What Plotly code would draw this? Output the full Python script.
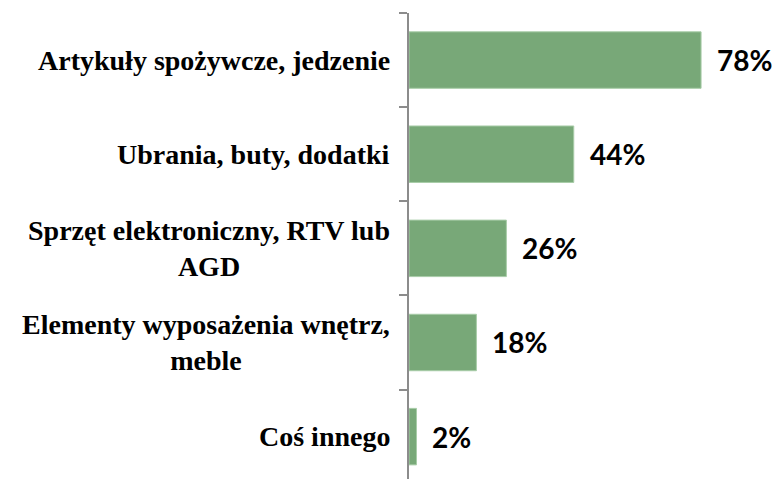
import plotly.graph_objects as go

categories = ["Artykuły spożywcze, jedzenie", "Ubrania, buty, dodatki",
              "Sprzęt elektroniczny, RTV lub<br>AGD",
              "Elementy wyposażenia wnętrz,<br>meble", "Coś innego"]
values = [78, 44, 26, 18, 2]
value_labels = ["78%", "44%", "26%", "18%", "2%"]

fig = go.Figure()
fig.add_trace(go.Bar(
    y=list(range(len(categories))), x=values, orientation="h",
    marker=dict(color="#78A878", line=dict(color="#A8CCA8", width=1)),
    width=0.6, hoverinfo="skip",
))

annotations = []
for i, (c, v, t) in enumerate(zip(categories, values, value_labels)):
    annotations.append(dict(
        x=0, xref="paper", y=i, yref="y", text=c, showarrow=False,
        xanchor="right", yanchor="middle", align="center", xshift=-17,
        font=dict(family="Liberation Serif", size=28, color="#000000", weight="bold"),
    ))
    annotations.append(dict(
        x=v, xref="x", y=i, yref="y", text=t, showarrow=False,
        xanchor="left", yanchor="middle", xshift=14,
        font=dict(family="Lato", size=28, color="#000000", weight="bold"),
    ))

fig.update_layout(
    width=777, height=479,
    margin=dict(l=409, r=31, t=13, b=0),
    paper_bgcolor="white", plot_bgcolor="white",
    showlegend=False,
    annotations=annotations,
    xaxis=dict(range=[0, 90], visible=False, fixedrange=True),
    yaxis=dict(
        range=[4.45, -0.5], tickmode="array",
        tickvals=[-0.5, 0.5, 1.5, 2.5, 3.5, 4.5],
        ticktext=[""] * 6, showticklabels=False,
        ticks="outside", ticklen=8, tickwidth=2, tickcolor="#8C8C8C",
        showline=True, linecolor="#8C8C8C", linewidth=2,
        showgrid=False, zeroline=False, fixedrange=True,
    ),
)

fig.write_html("out.html", config={"displayModeBar": False},
               post_script="document.body.style.margin='0';")
